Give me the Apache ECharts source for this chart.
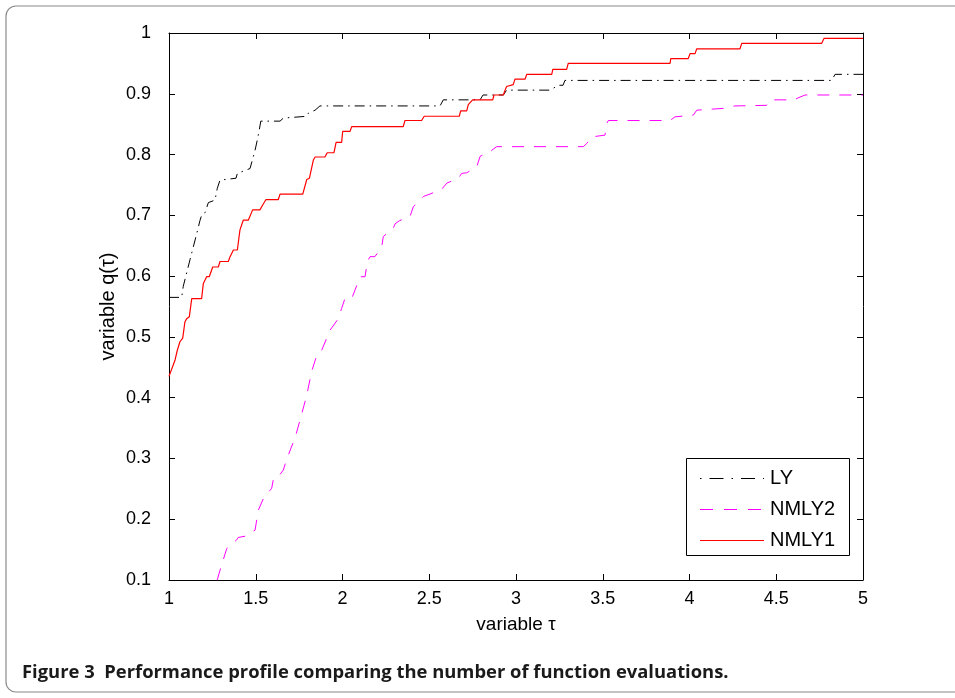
<!DOCTYPE html>
<html>
<head>
<meta charset="utf-8">
<script src="https://cdn.jsdelivr.net/npm/echarts@6/dist/echarts.min.js"></script>
<style>
html,body{margin:0;padding:0;background:#fff;}
#chart{width:955px;height:698px;}
</style>
</head>
<body>
<div id="chart"></div>
<script>
// ---- data ----
var xTicks = [1, 1.5, 2, 2.5, 3, 3.5, 4, 4.5, 5];
var yTicks = [0.1, 0.2, 0.3, 0.4, 0.5, 0.6, 0.7, 0.8, 0.9, 1];

var tauLY = [1.0, 1.073, 1.082, 1.121, 1.140, 1.160, 1.179, 1.188, 1.207, 1.227, 1.265, 1.278, 1.294, 1.386, 1.394, 1.467, 1.496, 1.509, 1.520, 1.529, 1.640, 1.659, 1.794, 1.803, 1.842, 1.870, 2.562, 2.581, 2.793, 2.810, 2.927, 2.946, 3.196, 3.244, 3.271, 3.282, 4.820, 4.839, 5.0];
var qLY   = [0.565, 0.565, 0.583, 0.627, 0.648, 0.670, 0.692, 0.700, 0.704, 0.721, 0.725, 0.744, 0.758, 0.761, 0.769, 0.777, 0.807, 0.824, 0.840, 0.855, 0.855, 0.860, 0.863, 0.868, 0.873, 0.880, 0.880, 0.890, 0.890, 0.898, 0.898, 0.906, 0.906, 0.914, 0.914, 0.922, 0.922, 0.932, 0.932];

var tauNMLY2 = [1.278, 1.294, 1.333, 1.390, 1.399, 1.438, 1.496, 1.515, 1.544, 1.592, 1.601, 1.617, 1.659, 1.674, 1.703, 1.726, 1.755, 1.794, 1.822, 1.851, 1.880, 1.928, 1.976, 1.995, 2.014, 2.053, 2.091, 2.101, 2.130, 2.143, 2.159, 2.187, 2.226, 2.235, 2.293, 2.303, 2.327, 2.389, 2.408, 2.466, 2.504, 2.572, 2.601, 2.668, 2.687, 2.716, 2.774, 2.793, 2.850, 2.889, 3.388, 3.407, 3.436, 3.513, 3.523, 3.532, 3.888, 3.916, 4.022, 4.042, 4.195, 4.262, 4.445, 4.464, 4.599, 4.666, 5.0];
var qNMLY2   = [0.100, 0.116, 0.152, 0.166, 0.170, 0.172, 0.182, 0.215, 0.234, 0.251, 0.265, 0.265, 0.281, 0.295, 0.317, 0.333, 0.363, 0.404, 0.443, 0.469, 0.478, 0.511, 0.530, 0.547, 0.563, 0.563, 0.591, 0.599, 0.599, 0.624, 0.632, 0.632, 0.648, 0.665, 0.679, 0.686, 0.691, 0.698, 0.714, 0.731, 0.735, 0.743, 0.753, 0.761, 0.769, 0.770, 0.780, 0.797, 0.805, 0.813, 0.813, 0.818, 0.829, 0.832, 0.851, 0.856, 0.856, 0.862, 0.865, 0.873, 0.876, 0.880, 0.881, 0.890, 0.890, 0.898, 0.898];

var tauNMLY1 = [1.0, 1.035, 1.048, 1.063, 1.079, 1.092, 1.102, 1.117, 1.131, 1.188, 1.198, 1.217, 1.232, 1.252, 1.284, 1.294, 1.342, 1.352, 1.371, 1.394, 1.409, 1.428, 1.457, 1.482, 1.524, 1.540, 1.559, 1.630, 1.640, 1.771, 1.794, 1.809, 1.832, 1.842, 1.899, 1.912, 1.951, 1.963, 1.995, 2.001, 2.043, 2.053, 2.350, 2.360, 2.456, 2.471, 2.673, 2.681, 2.716, 2.725, 2.750, 2.866, 2.873, 2.927, 2.937, 2.946, 2.984, 2.994, 3.052, 3.062, 3.206, 3.212, 3.292, 3.301, 3.888, 3.892, 3.993, 4.003, 4.032, 4.042, 4.291, 4.301, 4.762, 4.775, 5.0];
var qNMLY1   = [0.435, 0.462, 0.478, 0.492, 0.498, 0.525, 0.530, 0.533, 0.563, 0.563, 0.588, 0.599, 0.599, 0.615, 0.615, 0.624, 0.624, 0.632, 0.643, 0.643, 0.676, 0.692, 0.692, 0.709, 0.709, 0.717, 0.726, 0.726, 0.735, 0.735, 0.759, 0.761, 0.791, 0.796, 0.796, 0.803, 0.803, 0.820, 0.820, 0.838, 0.838, 0.846, 0.846, 0.856, 0.856, 0.863, 0.863, 0.872, 0.872, 0.882, 0.890, 0.890, 0.898, 0.898, 0.906, 0.912, 0.915, 0.924, 0.924, 0.932, 0.932, 0.940, 0.940, 0.950, 0.950, 0.958, 0.958, 0.966, 0.966, 0.974, 0.974, 0.983, 0.983, 0.991, 0.991];

var seriesNames = ['LY', 'NMLY2', 'NMLY1'];
var caption = 'Figure 3  Performance profile comparing the number of function evaluations.';

function pairs(xs, ys) { return xs.map(function (x, i) { return [x, ys[i]]; }); }

var chart = echarts.init(document.getElementById('chart'), null, {renderer: 'canvas'});
var FONT = 'Liberation Sans';
var tickCommon = {show: true, inside: true, length: 6, lineStyle: {color: '#000', width: 1}};
var lineCommon = {show: true, onZero: false, lineStyle: {color: '#000', width: 1}};

var option = {
  backgroundColor: '#fff',
  animation: false,
  grid: {left: 169, right: 92, top: 33, bottom: 118, containLabel: false},
  xAxis: [
    {type: 'value', min: 1, max: 5, interval: 0.5, position: 'bottom',
     axisLine: lineCommon, axisTick: tickCommon, splitLine: {show: false},
     axisLabel: {color: '#000', fontFamily: FONT, fontSize: 18, margin: 10,
                 formatter: function (v) { return xTicks.indexOf(+v.toFixed(2)) >= 0 ? String(+v.toFixed(2)) : ''; }},
     name: 'variable \u03c4', nameLocation: 'middle', nameGap: 35,
     nameTextStyle: {color: '#000', fontFamily: FONT, fontSize: 19}},
    {type: 'value', min: 1, max: 5, interval: 0.5, position: 'top',
     axisLine: lineCommon, axisTick: tickCommon, splitLine: {show: false}, axisLabel: {show: false}}
  ],
  yAxis: [
    {type: 'value', min: 0.1, max: 1, interval: 0.1, position: 'left',
     axisLine: lineCommon, axisTick: tickCommon, splitLine: {show: false},
     axisLabel: {color: '#000', fontFamily: FONT, fontSize: 18, margin: 18,
                 formatter: function (v) { return String(+v.toFixed(2)); }},
     name: 'variable q(\u03c4)', nameLocation: 'middle', nameGap: 51, nameRotate: 90, nameMoveOverlap: false,
     nameTextStyle: {color: '#000', fontFamily: FONT, fontSize: 20}},
    {type: 'value', min: 0.1, max: 1, interval: 0.1, position: 'right',
     axisLine: lineCommon, axisTick: tickCommon, splitLine: {show: false}, axisLabel: {show: false}}
  ],
  series: [
    {name: seriesNames[0], type: 'line', xAxisIndex: 0, yAxisIndex: 0, showSymbol: false, symbol: 'none',
     data: pairs(tauLY, qLY), clip: true,
     lineStyle: {color: '#000', width: 1, type: [10, 5, 1.5, 5]}},
    {name: seriesNames[1], type: 'line', xAxisIndex: 0, yAxisIndex: 0, showSymbol: false, symbol: 'none',
     data: pairs(tauNMLY2, qNMLY2), clip: true,
     lineStyle: {color: '#ff00ff', width: 1, type: [12, 10]}},
    {name: seriesNames[2], type: 'line', xAxisIndex: 0, yAxisIndex: 0, showSymbol: false, symbol: 'none',
     data: pairs(tauNMLY1, qNMLY1), clip: true,
     lineStyle: {color: '#ff0000', width: 1.2, type: 'solid'}}
  ],
  graphic: [
    // outer figure frame
    {type: 'rect', shape: {x: 6, y: 6, width: 980, height: 686, r: 10}, z: -1,
     style: {fill: 'none', stroke: '#8a8a8a', lineWidth: 1.2}},
    // legend box
    {type: 'rect', shape: {x: 686.5, y: 458.5, width: 163, height: 97}, z: 10,
     style: {fill: '#fff', stroke: '#000', lineWidth: 1}},
    {type: 'line', shape: {x1: 700, y1: 478.5, x2: 764, y2: 478.5}, z: 11,
     style: {stroke: '#000', lineWidth: 1, lineDash: [1.5, 8, 14, 8]}},
    {type: 'text', x: 770, y: 478, z: 11,
     style: {text: seriesNames[0], fill: '#000', font: '20px "Liberation Sans"', textVerticalAlign: 'middle'}},
    {type: 'line', shape: {x1: 700, y1: 509.5, x2: 764, y2: 509.5}, z: 11,
     style: {stroke: '#ff00ff', lineWidth: 1, lineDash: [13, 11]}},
    {type: 'text', x: 770, y: 509, z: 11,
     style: {text: seriesNames[1], fill: '#000', font: '20px "Liberation Sans"', textVerticalAlign: 'middle'}},
    {type: 'line', shape: {x1: 700, y1: 540.5, x2: 764, y2: 540.5}, z: 11,
     style: {stroke: '#ff0000', lineWidth: 1.2}},
    {type: 'text', x: 770, y: 540, z: 11,
     style: {text: seriesNames[2], fill: '#000', font: '20px "Liberation Sans"', textVerticalAlign: 'middle'}},
    // caption
    {type: 'text', x: 22, y: 673, z: 11,
     style: {text: caption, fill: '#1a1a1a', font: 'bold 18.4px "Open Sans"', textVerticalAlign: 'middle'}}
  ]
};
chart.setOption(option);
</script>
</body>
</html>
